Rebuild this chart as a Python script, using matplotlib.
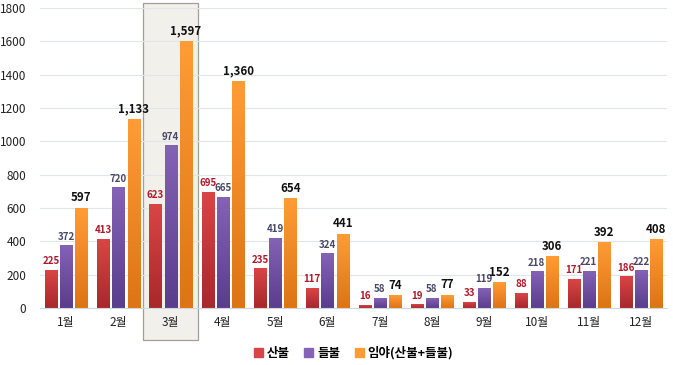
import numpy as np
import matplotlib
matplotlib.use('Agg')
import matplotlib.pyplot as plt
from matplotlib.patches import Rectangle
from matplotlib.colors import LinearSegmentedColormap

plt.rcParams['font.family'] = ['Noto Sans CJK KR', 'DejaVu Sans']

months = ['1월', '2월', '3월', '4월', '5월', '6월', '7월', '8월', '9월', '10월', '11월', '12월']
sanbul = [225, 413, 623, 695, 235, 117, 16, 19, 33, 88, 171, 186]
deulbul = [372, 720, 974, 665, 419, 324, 58, 58, 119, 218, 221, 222]
imya = [597, 1133, 1597, 1360, 654, 441, 74, 77, 152, 306, 392, 408]
series_names = ['산불', '들불', '임야(산불+들불)']

fig = plt.figure(figsize=(6.73, 3.65), dpi=100)
ax = fig.add_axes([0.0594, 0.156, 0.932, 0.822])

x = np.arange(len(months))
w = 0.23
step = 0.29

# gradient colours (top, bottom)
grads = [('#d94545', '#a8282c'), ('#8462b5', '#5a3d8c'), ('#ff9c35', '#dd7415')]
label_style = [dict(color='#b0182a', fontsize=7, fontweight='bold'),
               dict(color='#4a4766', fontsize=7, fontweight='bold'),
               dict(color='#111111', fontsize=8.3, fontweight='bold')]

# highlight box around 3월
ax.add_patch(Rectangle((1.47, -190), 1.06, 2020, facecolor='#f1f0ea',
                       edgecolor='#a0a09a', linewidth=0.9, clip_on=False, zorder=0.5))

for k, vals in enumerate([sanbul, deulbul, imya]):
    cmap = LinearSegmentedColormap.from_list('g%d' % k, [grads[k][1], grads[k][0]])
    grad = np.linspace(0, 1, 64).reshape(-1, 1)
    offs = (k - 1) * step
    for i, v in enumerate(vals):
        x0 = x[i] + offs - w / 2
        ax.imshow(grad, cmap=cmap, aspect='auto', origin='lower',
                  extent=(x0, x0 + w, 0, v), zorder=2, interpolation='bicubic')
        fmt = '{:,}'.format(v)
        ax.text(x[i] + offs, v + 25, fmt, ha='center', va='bottom', zorder=3, **label_style[k])

ax.set_xlim(-0.5, 11.5)
ax.set_ylim(0, 1800)
ax.set_yticks(range(0, 1801, 200))
ax.set_xticks(x)
ax.set_xticklabels(months)
ax.tick_params(axis='both', length=0, labelsize=8.5, colors='#222222')
ax.tick_params(axis='y', pad=10)
ax.tick_params(axis='x', pad=6)
ax.grid(axis='y', color='#dfe7ec', linewidth=0.8, zorder=0)
ax.set_axisbelow(True)
for s in ['top', 'right', 'left']:
    ax.spines[s].set_visible(False)
ax.spines['bottom'].set_color('#cfd8dc')
ax.patch.set_alpha(0)

handles = [Rectangle((0, 0), 1, 1, color=c[0]) for c in grads]
ax.legend(handles, series_names, loc='center', bbox_to_anchor=(0.5, -0.15),
          ncol=3, frameon=False, handlelength=0.7, handleheight=0.7,
          handletextpad=0.3, columnspacing=1.2, borderpad=0.2,
          prop={'weight': 'bold', 'size': 9})

fig.savefig('out.png', dpi=100)
